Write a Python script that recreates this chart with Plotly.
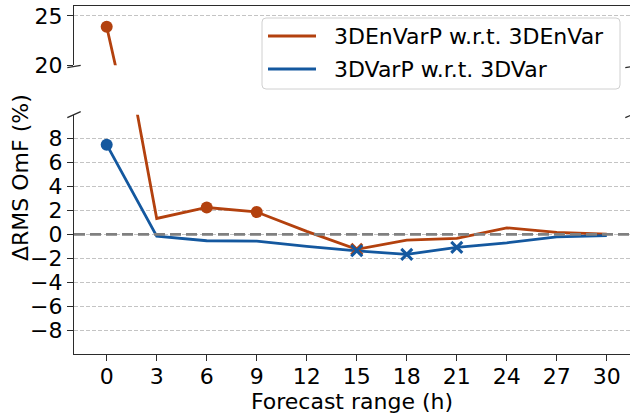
import plotly.graph_objects as go

# ---- data ----
forecast_h = [0, 3, 6, 9, 12, 15, 18, 21, 24, 27, 30]
envar_vals = [23.9, 1.33, 2.25, 1.87, 0.25, -1.25, -0.48, -0.34, 0.55, 0.17, 0.02]
var_vals = [7.5, -0.14, -0.53, -0.57, -1.0, -1.37, -1.67, -1.08, -0.7, -0.2, -0.1]
envar_marks = ["o", "", "o", "o", "", "x", "", "", "", "", ""]
var_marks = ["o", "", "", "", "", "x", "x", "x", "", "", ""]
series_names = ["3DEnVarP w.r.t. 3DEnVar", "3DVarP w.r.t. 3DVar"]
x_ticks = [0, 3, 6, 9, 12, 15, 18, 21, 24, 27, 30]
y_ticks_low = [-8, -6, -4, -2, 0, 2, 4, 6, 8]
y_ticks_high = [20, 25]

RED = "#b3410e"
BLUE = "#14589f"
FONT = "DejaVu Sans"

W, H = 630, 417
L, R, T, B = 74, 0, 6, 63
PW, PH = W - L - R, H - T - B


def px(xp):
    return (xp - L) / PW


def py(yp):
    return (H - B - yp) / PH


low_dom = [0, py(114.8)]
high_dom = [py(65.2), 1]

series = [(envar_vals, envar_marks, RED), (var_vals, var_marks, BLUE)]

fig = go.Figure()
for xa, ya in (("x", "y"), ("x2", "y2")):
    for i, (vals, marks, color) in enumerate(series):
        fig.add_trace(go.Scatter(x=forecast_h, y=vals, mode="lines",
                                 name=series_names[i], showlegend=False,
                                 line=dict(color=color, width=2.8),
                                 xaxis=xa, yaxis=ya))
    for i, (vals, marks, color) in enumerate(series):
        for m, sym, lw in (("o", "circle", 0), ("x", "x-thin", 3)):
            xs = [x for x, k in zip(forecast_h, marks) if k == m]
            ys = [y for y, k in zip(vals, marks) if k == m]
            if not xs:
                continue
            fig.add_trace(go.Scatter(x=xs, y=ys, mode="markers",
                                     name=series_names[i], showlegend=False,
                                     marker=dict(symbol=sym, size=11 if m == "x" else 12,
                                                 color=color, opacity=1,
                                                 line=dict(color=color, width=lw)),
                                     xaxis=xa, yaxis=ya))

xr = [-(106.7 - L) / 16.67, (W - R - 106.7) / 16.67]
spine = "#2b2b2b"
grid = dict(showgrid=True, gridcolor="#c4c4c4", gridwidth=1, griddash="4px,2px")

fig.update_layout(
    width=W, height=H,
    margin=dict(l=L, r=R, t=T, b=B, pad=0),
    paper_bgcolor="white", plot_bgcolor="white",
    font=dict(family=FONT, size=22, color="black"),
    showlegend=False,
    xaxis=dict(domain=[0, 1], range=xr, anchor="y", tickvals=x_ticks,
               showline=True, linecolor=spine, linewidth=1.3,
               ticks="outside", ticklen=6, tickwidth=1.3, tickcolor=spine,
               ticklabelstandoff=-4,
               showgrid=False, zeroline=False,
               title=dict(text="Forecast range (h)", standoff=2,
                          font=dict(size=22))),
    yaxis=dict(domain=low_dom, range=[-10, 10], anchor="x", tickvals=y_ticks_low,
               ticktext=[str(v).replace("-", "\u2212") for v in y_ticks_low],
               showline=True, linecolor=spine, linewidth=1.3,
               ticks="outside", ticklen=6, tickwidth=1.3, tickcolor=spine,
               zeroline=False, **grid),
    xaxis2=dict(domain=[0, 1], range=xr, anchor="y2", side="top",
                showline=True, linecolor=spine, linewidth=1.3,
                showticklabels=False, ticks="", showgrid=False, zeroline=False),
    yaxis2=dict(domain=high_dom, range=[20, 26], anchor="x2", tickvals=y_ticks_high,
                showline=True, linecolor=spine, linewidth=1.3,
                ticks="outside", ticklen=6, tickwidth=1.3, tickcolor=spine,
                zeroline=False, **grid),
)

# zero reference line
fig.add_shape(type="line", xref="paper", yref="y", x0=0, x1=1, y0=0, y1=0,
              line=dict(color="#808080", width=2.6, dash="11px,5px"), layer="above")

# axis break marks
for cx in (74, 632):
    fig.add_shape(type="line", xref="paper", yref="paper",
                  x0=px(cx - 6.7), x1=px(cx + 6.7), y0=py(67.7), y1=py(65.3),
                  line=dict(color=spine, width=1.3))
    fig.add_shape(type="line", xref="paper", yref="paper",
                  x0=px(cx - 6.7), x1=px(cx + 6.7), y0=py(117.7), y1=py(111.7),
                  line=dict(color=spine, width=1.3))

# legend box (matplotlib-style, rounded)
lx0, lx1, ly0, ly1 = 262, 620, 18, 89
rx, ry = 4 / PW, 4 / PH
X0, X1, Y0, Y1 = px(lx0), px(lx1), py(ly1), py(ly0)
path = (f"M{X0+rx},{Y0} L{X1-rx},{Y0} Q{X1},{Y0} {X1},{Y0+ry} "
        f"L{X1},{Y1-ry} Q{X1},{Y1} {X1-rx},{Y1} L{X0+rx},{Y1} "
        f"Q{X0},{Y1} {X0},{Y1-ry} L{X0},{Y0+ry} Q{X0},{Y0} {X0+rx},{Y0} Z")
fig.add_shape(type="path", xref="paper", yref="paper", path=path,
              fillcolor="rgba(255,255,255,0.8)", line=dict(color="#d0d0d0", width=1),
              layer="above")
for i, (vals, marks, color) in enumerate(series):
    yy = [36, 69][i]
    fig.add_shape(type="line", xref="paper", yref="paper",
                  x0=px(268), x1=px(316), y0=py(yy), y1=py(yy),
                  line=dict(color=color, width=2.8), layer="above")
    fig.add_annotation(text=series_names[i], xref="paper", yref="paper",
                       x=px(332), y=py(yy + 0.5), showarrow=False,
                       xanchor="left", yanchor="middle",
                       font=dict(size=22, family=FONT, color="black"))

fig.add_annotation(text="\u0394RMS OmF (%)", xref="paper", yref="paper",
                   x=px(21), y=py(178), textangle=-90, showarrow=False,
                   xanchor="center", yanchor="middle",
                   font=dict(size=22, family=FONT, color="black"))

fig.write_html("out.html")
